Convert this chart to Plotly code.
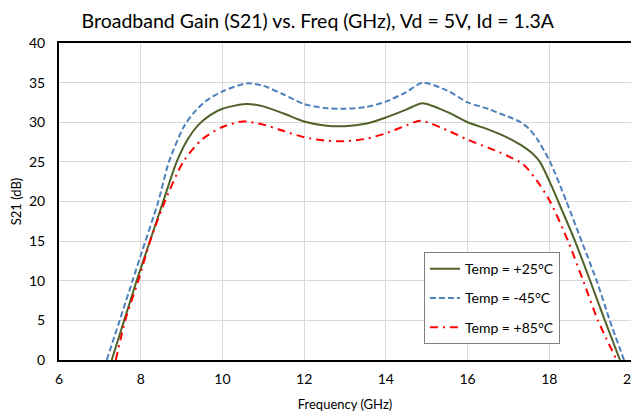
import plotly.graph_objects as go

# +25C (green solid)
f25 = [7.29, 7.9, 8.2, 8.55, 8.88, 9.17, 9.4, 9.7, 10.0, 10.57, 11.0, 11.5, 12.0, 12.5, 13.0, 13.5, 14.0,
       14.5, 14.9, 15.5, 16.0, 16.5, 16.79, 17.0, 17.28, 17.6, 17.77, 18.0, 18.22, 18.63, 19.0, 19.36, 19.73]
g25 = [0, 10.0, 14.6, 20.0, 25.0, 28.0, 29.6, 30.9, 31.7, 32.3, 32.0, 31.1, 30.1, 29.6, 29.5, 29.8, 30.6,
       31.6, 32.4, 31.3, 30.0, 29.1, 28.5, 28.0, 27.2, 26.0, 25.0, 22.6, 20.0, 15.0, 10.0, 5.0, 0]
# -45C (blue dashed)
fm45 = [7.17, 7.8, 8.0, 8.43, 8.69, 9.05, 9.3, 9.6, 10.0, 10.6, 11.0, 11.5, 12.0, 12.5, 13.0, 13.5, 14.0, 14.5,
        14.9, 15.5, 16.0, 16.5, 16.79, 17.0, 17.3, 17.5, 17.7, 18.02, 18.42, 18.79, 19.16, 19.48, 19.83]
gm45 = [0, 10.0, 13.2, 20.0, 25.0, 29.4, 31.2, 32.7, 33.9, 34.9, 34.6, 33.5, 32.3, 31.8, 31.7, 31.9, 32.6, 33.8,
        35.0, 34.0, 32.5, 31.7, 31.1, 30.7, 30.0, 29.2, 27.9, 25.0, 20.0, 15.0, 10.0, 5.0, 0]
# +85C (red dash-dot)
f85 = [7.39, 7.62, 7.94, 8.23, 8.59, 9.04, 9.49, 10.0, 10.5, 11.0, 11.5, 12.0, 12.5, 13.0, 13.5, 14.0, 14.5,
       14.85, 15.5, 16.0, 16.5, 16.79, 17.0, 17.36, 17.7, 18.02, 18.46, 18.83, 19.19, 19.65]
g85 = [0, 5.0, 10.0, 15.0, 20.0, 25.0, 27.8, 29.4, 30.1, 29.7, 28.9, 28.1, 27.7, 27.6, 27.9, 28.6, 29.6,
       30.2, 29.0, 27.8, 26.8, 26.2, 25.7, 24.7, 22.6, 20.0, 15.0, 10.0, 5.0, 0]

xticks = [6, 8, 10, 12, 14, 16, 18, 20]
yticks = [0, 5, 10, 15, 20, 25, 30, 35, 40]

FONT = "Lato"

fig = go.Figure()
fig.add_trace(go.Scatter(x=f25, y=g25, mode="lines", name="Temp = +25°C", legendgroup="a",
                         line=dict(color="#4F6228", width=2, shape="spline", smoothing=0.7)))
fig.add_trace(go.Scatter(x=fm45, y=gm45, mode="lines", name="Temp = -45°C", legendgroup="b",
                         line=dict(color="#4F81BD", width=2, dash="6px,3px", shape="spline", smoothing=0.7)))
fig.add_trace(go.Scatter(x=f85, y=g85, mode="lines", name="Temp = +85°C", legendgroup="c",
                         line=dict(color="#FF0000", width=2, dash="8px,5px,2px,5px", shape="spline", smoothing=0.7)))

# page body has an 8px margin, so the figure is sized to fit 639x417 after that offset
fig.update_layout(
    width=631, height=409,
    margin=dict(l=51, r=8, t=34.5, b=57, autoexpand=False),
    paper_bgcolor="white", plot_bgcolor="white",
    font=dict(family=FONT, color="black", size=14),
    title=dict(text="Broadband Gain (S21) vs. Freq (GHz), Vd = 5V, Id = 1.3A",
               x=0.491, xanchor="center", y=0.968, yanchor="middle",
               font=dict(size=19.5, family=FONT, color="black")),
    legend=dict(x=0.638, y=0.340, xanchor="left", yanchor="top",
                bgcolor="white", bordercolor="#808080", borderwidth=1,
                font=dict(size=14, family=FONT), tracegroupgap=8),
    xaxis=dict(range=[6, 20], tickvals=xticks, showgrid=True, gridcolor="#D9D9D9", gridwidth=1,
               showline=True, linecolor="black", linewidth=2, mirror=True, zeroline=False,
               ticks="", tickfont=dict(size=14), automargin=False, ticklabelstandoff=5,
               ticklabeloverflow="allow",
               title=dict(text="Frequency (GHz)", font=dict(size=13), standoff=14)),
    yaxis=dict(range=[0, 40], tickvals=yticks, showgrid=True, gridcolor="#D9D9D9", gridwidth=1,
               showline=True, linecolor="black", linewidth=2, mirror=True, zeroline=False,
               ticks="", tickfont=dict(size=14), automargin=False, ticklabelstandoff=9,
               ticklabeloverflow="allow",
               title=dict(text="S21 (dB)", font=dict(size=13), standoff=10)),
)

fig.write_html("out.html")
